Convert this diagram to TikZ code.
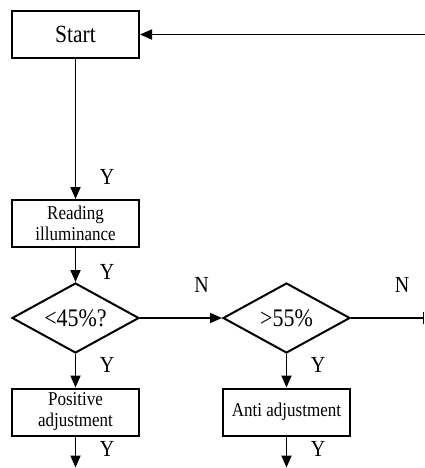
\documentclass[tikz,border=0pt]{standalone}
\usepackage{fontspec}
\setmainfont{Liberation Serif}
\usetikzlibrary{arrows.meta,shapes.geometric}
\newcommand{\tallt}[1]{\scalebox{1}[1.15]{#1}}
\begin{document}
\begin{tikzpicture}[x=1pt,y=-1pt,
  every path/.style={line width=1.8pt},
  box/.style={draw,line width=2pt,rectangle,minimum width=127pt,minimum height=47pt,inner sep=0pt,align=center},
  dia/.style={draw,line width=2pt,diamond,aspect=1.8,minimum width=127pt,minimum height=70pt,inner sep=0pt,font=\fontsize{22}{24}\selectfont},
  big/.style={font=\fontsize{21.5}{24}\selectfont},
  small/.style={font=\fontsize{17}{21}\selectfont},
  lbl/.style={font=\fontsize{20}{22}\selectfont,inner sep=0pt},
  arr/.style={-{Triangle[length=12pt,width=10pt]}}
]
\useasboundingbox (0,0) rectangle (425,468);
\node[box,big] (start) at (75.5,34.5) {\tallt{Start}};
\node[box,small] (read) at (75.5,223.5) {\tallt{Reading}\\\tallt{illuminance}};
\node[dia] (d1) at (75.5,318) {\tallt{<45\%?}};
\node[dia] (d2) at (286.5,318) {\tallt{>55\%}};
\node[box,small] (pos) at (75.5,412) {\tallt{Positive}\\\tallt{adjustment}};
\node[box,small] (anti) at (286.5,412) {\tallt{Anti adjustment}};
\coordinate (rt) at (425,34.5);
\coordinate (re) at (424.3,318);
\coordinate (b1) at (75.5,467.5);
\coordinate (b2) at (286.5,467.5);
\draw[arr] (rt) -- (start.east);
\draw[arr] (start.south) -- (read.north);
\draw[arr] (read.south) -- (d1.north);
\draw[arr] (d1.east) -- (d2.west);
\draw[-{Bar[width=12pt]}] (d2.east) -- (re);
\draw[arr] (d1.south) -- (pos.north);
\draw[arr] (d2.south) -- (anti.north);
\draw[arr] (pos.south) -- (b1);
\draw[arr] (anti.south) -- (b2);
\node[lbl] (y1) at (107,177) {\tallt{Y}};
\node[lbl] (y2) at (107,272) {\tallt{Y}};
\node[lbl] (n1) at (201.5,285) {\tallt{N}};
\node[lbl] (n2) at (402,285) {\tallt{N}};
\node[lbl] (y3) at (107,365) {\tallt{Y}};
\node[lbl] (y4) at (318,365) {\tallt{Y}};
\node[lbl] (y5) at (107,449) {\tallt{Y}};
\node[lbl] (y6) at (318,449) {\tallt{Y}};
\end{tikzpicture}
\end{document}
